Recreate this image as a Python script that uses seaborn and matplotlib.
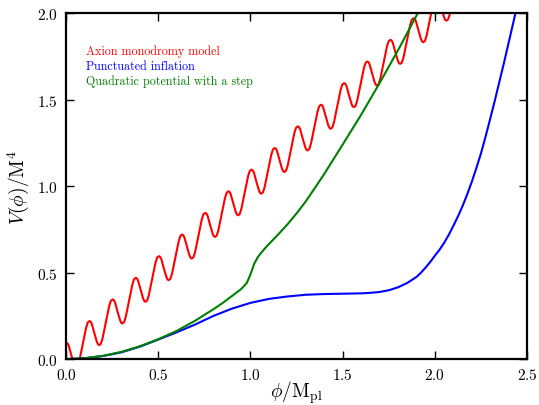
import matplotlib
matplotlib.use("Agg")
import matplotlib.pyplot as plt
import seaborn as sns
import pandas as pd

# Axion monodromy model
phi_axion = [0.000, 0.008, 0.015, 0.028, 0.042, 0.048, 0.055, 0.064, 0.073, 0.091, 0.109, 0.118,
             0.127, 0.134, 0.140, 0.154, 0.167, 0.174, 0.180, 0.189, 0.198, 0.216, 0.234, 0.243,
             0.253, 0.259, 0.266, 0.279, 0.293, 0.299, 0.306, 0.315, 0.324, 0.342, 0.360, 0.369,
             0.378, 0.385, 0.391, 0.405, 0.418, 0.425, 0.431, 0.440, 0.449, 0.467, 0.485, 0.494,
             0.504, 0.510, 0.517, 0.530, 0.544, 0.550, 0.557, 0.566, 0.575, 0.593, 0.611, 0.620,
             0.629, 0.636, 0.642, 0.656, 0.669, 0.676, 0.682, 0.691, 0.700, 0.718, 0.736, 0.745,
             0.755, 0.761, 0.768, 0.781, 0.795, 0.801, 0.808, 0.817, 0.826, 0.844, 0.862, 0.871,
             0.880, 0.887, 0.893, 0.907, 0.920, 0.927, 0.933, 0.942, 0.951, 0.969, 0.987, 0.996,
             1.006, 1.012, 1.019, 1.032, 1.046, 1.052, 1.059, 1.068, 1.077, 1.095, 1.113, 1.122,
             1.131, 1.138, 1.144, 1.158, 1.171, 1.178, 1.184, 1.193, 1.202, 1.220, 1.238, 1.247,
             1.257, 1.263, 1.270, 1.283, 1.297, 1.303, 1.310, 1.319, 1.328, 1.346, 1.364, 1.373,
             1.382, 1.389, 1.395, 1.409, 1.422, 1.429, 1.435, 1.444, 1.453, 1.471, 1.489, 1.498,
             1.508, 1.514, 1.521, 1.534, 1.548, 1.554, 1.561, 1.570, 1.579, 1.597, 1.615, 1.624,
             1.633, 1.640, 1.646, 1.660, 1.673, 1.680, 1.686, 1.695, 1.704, 1.722, 1.740, 1.749,
             1.759, 1.765, 1.772, 1.785, 1.799, 1.805, 1.812, 1.821, 1.830, 1.848, 1.866, 1.875,
             1.884, 1.891, 1.897, 1.911, 1.924, 1.931, 1.937, 1.946, 1.955, 1.973, 1.991, 2.000,
             2.010, 2.016, 2.023, 2.036, 2.050, 2.056, 2.063, 2.072, 2.081, 2.099]
v_axion = [0.095, 0.091, 0.077, 0.025, -0.025, -0.040, -0.044, -0.036, -0.005, 0.088, 0.182, 0.212,
           0.220, 0.216, 0.202, 0.150, 0.100, 0.085, 0.081, 0.089, 0.120, 0.213, 0.307, 0.337,
           0.345, 0.341, 0.327, 0.275, 0.225, 0.210, 0.206, 0.214, 0.245, 0.338, 0.432, 0.462,
           0.470, 0.466, 0.452, 0.400, 0.350, 0.335, 0.331, 0.339, 0.370, 0.463, 0.557, 0.587,
           0.595, 0.591, 0.577, 0.525, 0.475, 0.460, 0.456, 0.464, 0.495, 0.588, 0.682, 0.712,
           0.720, 0.716, 0.702, 0.650, 0.600, 0.585, 0.581, 0.589, 0.620, 0.713, 0.807, 0.837,
           0.845, 0.841, 0.827, 0.775, 0.725, 0.710, 0.706, 0.714, 0.745, 0.838, 0.932, 0.962,
           0.970, 0.966, 0.952, 0.900, 0.850, 0.835, 0.831, 0.839, 0.870, 0.963, 1.057, 1.087,
           1.095, 1.091, 1.077, 1.025, 0.975, 0.960, 0.956, 0.964, 0.995, 1.088, 1.182, 1.212,
           1.220, 1.216, 1.202, 1.150, 1.100, 1.085, 1.081, 1.089, 1.120, 1.213, 1.307, 1.337,
           1.345, 1.341, 1.327, 1.275, 1.225, 1.210, 1.206, 1.214, 1.245, 1.338, 1.432, 1.462,
           1.470, 1.466, 1.452, 1.400, 1.350, 1.335, 1.331, 1.339, 1.370, 1.463, 1.557, 1.587,
           1.595, 1.591, 1.577, 1.525, 1.475, 1.460, 1.456, 1.464, 1.495, 1.588, 1.682, 1.712,
           1.720, 1.716, 1.702, 1.650, 1.600, 1.585, 1.581, 1.589, 1.620, 1.713, 1.807, 1.837,
           1.845, 1.841, 1.827, 1.775, 1.725, 1.710, 1.706, 1.714, 1.745, 1.838, 1.932, 1.962,
           1.970, 1.966, 1.952, 1.900, 1.850, 1.835, 1.831, 1.839, 1.870, 1.963, 2.057, 2.087,
           2.095, 2.091, 2.077, 2.025, 1.975, 1.960, 1.956, 1.964, 1.995, 2.088]

# Punctuated inflation
phi_punct = [0.0, 0.1, 0.2, 0.3, 0.4, 0.5, 0.6, 0.7, 0.8, 0.9, 1.0, 1.1,
             1.2, 1.3, 1.4, 1.5, 1.6, 1.65, 1.7, 1.75, 1.8, 1.85, 1.9, 1.925,
             1.95, 1.975, 2.0, 2.025, 2.05, 2.075, 2.1, 2.125, 2.15, 2.175,
             2.2, 2.225, 2.25, 2.275, 2.3, 2.325, 2.35, 2.375, 2.4, 2.425, 2.45]
v_punct = [0.0, 0.005, 0.018, 0.039, 0.072, 0.113, 0.155, 0.200, 0.250,
           0.292, 0.325, 0.348, 0.362, 0.372, 0.376, 0.378, 0.380, 0.383,
           0.388, 0.398, 0.415, 0.440, 0.475, 0.500, 0.530, 0.562, 0.598,
           0.632, 0.672, 0.718, 0.770, 0.825, 0.885, 0.952, 1.025, 1.105,
           1.190, 1.287, 1.390, 1.495, 1.605, 1.715, 1.830, 1.945, 2.060]

# Quadratic potential with a step
phi_step = [0.0, 0.1, 0.2, 0.3, 0.4, 0.5, 0.6, 0.7, 0.8, 0.85, 0.9, 0.95,
            0.98, 1.0, 1.02, 1.04, 1.06, 1.08, 1.1, 1.15, 1.2, 1.25, 1.3,
            1.35, 1.4, 1.5, 1.6, 1.7, 1.8, 1.9, 1.95]
v_step = [0.0, 0.005, 0.019, 0.042, 0.074, 0.115, 0.163, 0.222, 0.289,
          0.325, 0.365, 0.405, 0.440, 0.490, 0.550, 0.590, 0.617, 0.642,
          0.665, 0.720, 0.778, 0.842, 0.912, 0.990, 1.070, 1.240, 1.412,
          1.595, 1.785, 1.985, 2.090]

labels = ["Axion monodromy model", "Punctuated inflation",
          "Quadratic potential with a step"]
colors = ["red", "blue", "green"]

df = pd.concat([
    pd.DataFrame({"phi": phi_axion, "V": v_axion, "model": labels[0]}),
    pd.DataFrame({"phi": phi_punct, "V": v_punct, "model": labels[1]}),
    pd.DataFrame({"phi": phi_step, "V": v_step, "model": labels[2]}),
])

sns.set_style("ticks", {"axes.edgecolor": "black", "xtick.color": "black",
                        "ytick.color": "black", "text.color": "black",
                        "axes.labelcolor": "black"})
plt.rcParams["font.family"] = ["cmr10"]
plt.rcParams["mathtext.fontset"] = "cm"
plt.rcParams["axes.formatter.use_mathtext"] = True

fig, ax = plt.subplots(figsize=(5.39, 4.06), dpi=100)
fig.subplots_adjust(left=0.1225, right=0.978, bottom=0.113, top=0.9655)

sns.lineplot(data=df, x="phi", y="V", hue="model", hue_order=labels,
             palette=dict(zip(labels, colors)), estimator=None,
             linewidth=1.5, ax=ax)

ax.set_xlim(0, 2.5)
ax.set_ylim(0, 2.0)
ax.set_xticks([0.0, 0.5, 1.0, 1.5, 2.0, 2.5])
ax.set_yticks([0.0, 0.5, 1.0, 1.5, 2.0])
ax.tick_params(direction="in", top=True, right=True, length=6, width=1,
               labelsize=11, pad=6, colors="black")
for s in ax.spines.values():
    s.set_linewidth(1.6)
    s.set_color("black")
ax.set_xlabel(r"$\phi/\mathrm{M}_{\rm pl}$", fontsize=14, labelpad=-3)
ax.set_ylabel(r"$V(\phi)/\mathrm{M}^4$", fontsize=14)

leg = ax.legend(loc="upper left", bbox_to_anchor=(0.02, 0.94), frameon=False,
                handlelength=0, handletextpad=0, fontsize=8.7,
                labelspacing=0.22)
for h in leg.legend_handles:
    h.set_visible(False)
for t, c in zip(leg.get_texts(), colors):
    t.set_color(c)

fig.savefig("out.png", dpi=100)
